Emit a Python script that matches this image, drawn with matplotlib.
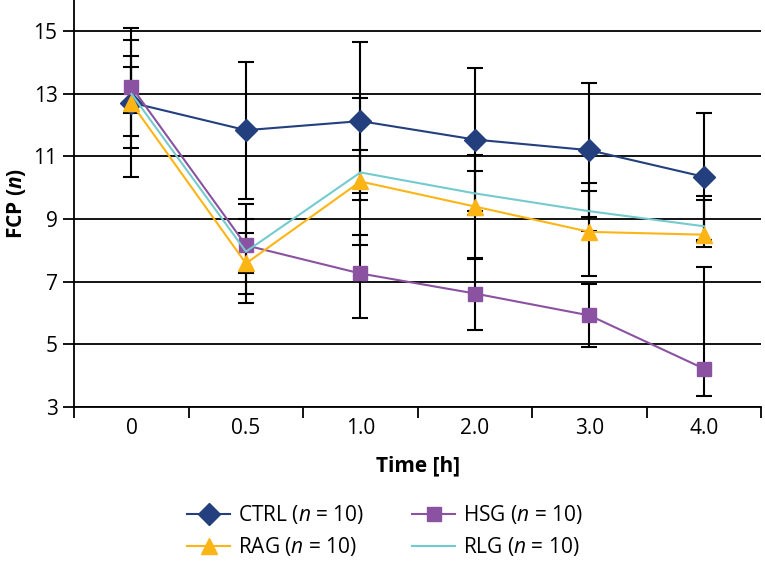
import matplotlib.pyplot as plt

plt.rcParams['font.family'] = ['Open Sans', 'DejaVu Sans']
plt.rcParams['mathtext.fontset'] = 'custom'
plt.rcParams['mathtext.rm'] = 'Open Sans'
plt.rcParams['mathtext.it'] = 'Open Sans:italic'
plt.rcParams['mathtext.bf'] = 'Open Sans:bold:italic'

times = ['0', '0.5', '1.0', '2.0', '3.0', '4.0']

# mean values
ctrl = [12.72, 11.84, 12.13, 11.54, 11.20, 10.35]
hsg = [13.23, 8.16, 7.26, 6.62, 5.92, 4.22]
rag = [12.70, 7.58, 10.20, 9.40, 8.59, 8.50]
rlg = [13.00, 7.96, 10.49, 9.82, 9.25, 8.77]

# error bars (lower, upper)
ctrl_lo = [2.38, 2.19, 2.53, 2.28, 2.14, 2.03]
ctrl_hi = [2.38, 2.19, 2.52, 2.28, 2.14, 2.03]
hsg_lo = [1.57, 0.87, 1.42, 1.16, 1.02, 0.88]
hsg_hi = [1.49, 1.33, 1.24, 1.10, 1.02, 3.25]
rag_lo = [1.44, 0.96, 0.38, 1.66, 1.41, 0.40]
rag_hi = [1.51, 0.99, 1.00, 1.66, 1.55, 1.10]
rlg_lo = [0.60, 1.64, 2.31, 0.70, 0.64, 0.50]
rlg_hi = [0.85, 1.03, 2.37, 0.73, 0.64, 0.97]

x = list(range(len(times)))

fig = plt.figure(figsize=(7.65, 5.65), dpi=100)
ax = fig.add_axes([0.097, 0.28, 0.898, 0.72])

series = [
    ('CTRL', ctrl, ctrl_lo, ctrl_hi, '#243F7D', 'D', 11),
    ('HSG', hsg, hsg_lo, hsg_hi, '#8B52A1', 's', 10),
    ('RAG', rag, rag_lo, rag_hi, '#FDB515', '^', 12),
    ('RLG', rlg, rlg_lo, rlg_hi, '#74CBCE', None, 0),
]

for name, y, lo, hi, col, mk, ms in series:
    ax.errorbar(x, y, yerr=[lo, hi], fmt='none', ecolor='black',
                elinewidth=1.5, capsize=6, capthick=1.5, zorder=2)

handles = {}
for name, y, lo, hi, col, mk, ms in series:
    h, = ax.plot(x, y, color=col, lw=1.5, marker=mk, markersize=ms,
                 markeredgecolor=col, zorder=3,
                 label=name + r' ($\it{n}$ = 10)')
    handles[name] = h

ax.set_xlim(-0.5, 5.5)
ax.set_ylim(3, 16)
ax.set_yticks([3, 5, 7, 9, 11, 13, 15])
ax.set_xticks(x)
ax.set_xticklabels(times)
ax.set_xticks([i - 0.5 for i in range(len(times) + 1)], minor=True)
ax.tick_params(axis='x', which='major', length=0, labelsize=15, pad=8)
ax.tick_params(axis='x', which='minor', length=8, width=1.3, direction='out')
ax.tick_params(axis='y', length=8, width=1.3, labelsize=15, pad=4)
ax.yaxis.grid(True, color='black', lw=1.3)
ax.set_axisbelow(True)

for s in ['top', 'right']:
    ax.spines[s].set_visible(False)
for s in ['left', 'bottom']:
    ax.spines[s].set_linewidth(1.3)

ax.set_xlabel('Time [h]', fontsize=15, fontweight='bold', labelpad=12)
ax.set_ylabel(r'FCP ($\mathbf{n}$)', fontsize=15, fontweight='bold', labelpad=4)

order = ['CTRL', 'RAG', 'HSG', 'RLG']
fig.legend([handles[k] for k in order], [handles[k].get_label() for k in order],
           ncol=2, loc='lower left', bbox_to_anchor=(0.244, 0.012),
           frameon=False, fontsize=15, handlelength=2.1, handletextpad=0.35,
           columnspacing=2.3, labelspacing=0.45, borderpad=0, borderaxespad=0)

fig.savefig('out.png', dpi=100)
